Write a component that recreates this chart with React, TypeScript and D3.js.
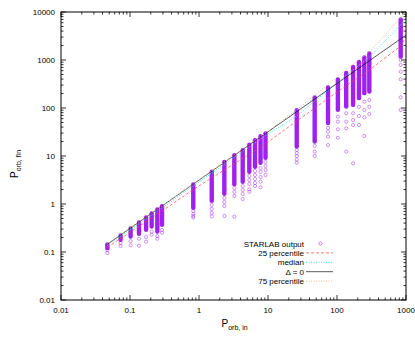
import React from "react";
import * as d3 from "d3";

// orbital period in / out of STARLAB runs, one column per initial period
const pIn = [
  0.047, 0.073, 0.102, 0.135, 0.171, 0.206, 0.249, 0.291,
  0.826, 1.53, 2.33, 3.25, 4.3, 5.36, 6.48, 7.79, 9.2,
  26.1, 47.5, 74.1, 103, 136, 171, 208, 249, 294, 838,
];
// highest value of each column
const finTop = [
  0.145, 0.223, 0.312, 0.416, 0.528, 0.64, 0.776, 0.908,
  2.57, 4.75, 7.61, 10.5, 13.3, 17.4, 21.5, 26.1, 29.7,
  90.9, 167, 270, 396, 543, 725, 922, 1138, 1380, 7050,
];
// lower end of the dense (overlapping) part of each column
const finDenseLow = [
  0.119, 0.178, 0.208, 0.237, 0.287, 0.337, 0.265, 0.365,
  0.826, 1.155, 1.62, 2.55, 2.87, 4.64, 5.9, 7.15, 9.08,
  15.6, 19.9, 48, 90.9, 106, 115, 159, 202, 219, 1170,
];
// single points below the dense part
const finSparse = [
  [0.11, 0.095],
  [0.154, 0.133],
  [0.169, 0.138],
  [0.189, 0.135],
  [0.205, 0.164],
  [0.265, 0.229],
  [0.215, 0.189],
  [0.287, 0.252],
  [0.714, 0.619, 0.562, 0.523],
  [0.953, 0.787, 0.649, 0.55],
  [1.33, 1.1, 0.908, 0.562],
  [2.15, 1.78, 1.47, 0.543],
  [2.37, 1.96, 1.62, 1.27],
  [3.83, 3.16, 2.61, 2.02, 1.8],
  [4.87, 4.02, 3.32, 2.74, 2.37],
  [5.62, 4.64, 3.65, 2.92, 2.23],
  [7.5, 6.19, 5.11, 4.02],
  [13.3, 11.5, 10.0, 8.45, 7.25],
  [16.2, 12.3, 10.0],
  [38.3, 32.1, 25.2, 16.9],
  [65.9, 51.9, 36.0, 24.0],
  [77.6, 51.9, 37.8, 12.3],
  [77.6, 56.2, 44.2, 7.04],
  [106, 68.1, 44.2],
  [135, 90.9, 64.0, 26.1],
  [147, 106, 75.0],
  [1000, 787, 570, 396, 167, 90.9],
];

// percentile curves
const pctX = [0.047, 0.291, 0.826, 9.2, 26.1, 103, 294, 838, 1000];
const p25 = [0.125, 0.714, 2.0, 17.8, 53.6, 221, 619, 1959, 3015];
const p50 = [0.136, 0.826, 2.37, 26.7, 68.1, 348, 1155, 5360, 7500];
const p75 = [0.148, 0.908, 2.61, 30.1, 90.9, 464, 1468, 7500, 10000];
const deltaZeroX = [0.047, 1000];
const deltaZeroY = [0.145, 3300];

const W = 415;
const H = 339;
const left = 61, right = 406, top = 12, bottom = 300;
const font = "'Liberation Sans', Arial, Helvetica, sans-serif";
const purple = "#a020f0";

export default function App() {
  const x = d3.scaleLog().domain([0.01, 1000]).range([left, right]);
  const y = d3.scaleLog().domain([0.01, 10000]).range([bottom, top]);
  const fmt = d3.format("~g");

  const line = d3
    .line<[number, number]>()
    .x((d) => x(d[0]))
    .y((d) => y(d[1]));
  const pairs = (xs: number[], ys: number[]) =>
    xs.map((v, i) => [v, ys[i]] as [number, number]);

  const isMajor = (v: number) => Math.abs(Math.log10(v) - Math.round(Math.log10(v))) < 1e-9;
  const xTicks = x.ticks();
  const yTicks = y.ticks();

  const curves = [
    { label: "25 percentile", d: line(pairs(pctX, p25)), color: "#ff4040", dash: "3,2", w: 0.7 },
    { label: "median", d: line(pairs(pctX, p50)), color: "#20e8e8", dash: "1,1.5", w: 0.9 },
    { label: "\u0394 = 0", d: line(pairs(deltaZeroX, deltaZeroY)), color: "#111", dash: undefined, w: 0.7 },
    { label: "75 percentile", d: line(pairs(pctX, p75)), color: "#e8b878", dash: "1,1.5", w: 0.9 },
  ];
  const legendY = (i: number) => 243.5 + i * 9.4;

  return (
    <svg
      width={W}
      height={H}
      style={{ position: "absolute", left: 0, top: 0, background: "#fff" }}
      fontFamily={font}
    >
      <defs>
        <clipPath id="plot">
          <rect x={left} y={top} width={right - left} height={bottom - top} />
        </clipPath>
      </defs>

      {/* ticks on all four sides, pointing inward */}
      <g stroke="#000" strokeWidth={0.8}>
        {xTicks.map((t, i) => {
          const len = isMajor(t) ? 5 : 2.5;
          const px = x(t);
          return (
            <g key={"xt" + i}>
              <line x1={px} x2={px} y1={bottom} y2={bottom - len} />
              <line x1={px} x2={px} y1={top} y2={top + len} />
            </g>
          );
        })}
        {yTicks.map((t, i) => {
          const len = isMajor(t) ? 5 : 2.5;
          const py = y(t);
          return (
            <g key={"yt" + i}>
              <line x1={left} x2={left + len} y1={py} y2={py} />
              <line x1={right} x2={right - len} y1={py} y2={py} />
            </g>
          );
        })}
      </g>

      <g fontSize={8} fill="#000">
        {xTicks.filter(isMajor).map((t, i) => (
          <text key={"xl" + i} x={x(t)} y={313} textAnchor="middle">
            {fmt(t)}
          </text>
        ))}
        {yTicks.filter(isMajor).map((t, i) => (
          <text key={"yl" + i} x={55} y={y(t) + 3} textAnchor="end">
            {fmt(t)}
          </text>
        ))}
      </g>

      {/* data columns */}
      <g clipPath="url(#plot)">
        {pIn.map((p, i) => {
          const cx = x(p);
          const y0 = y(finTop[i]);
          const y1 = y(finDenseLow[i]);
          return (
            <g key={"c" + i}>
              <rect x={cx - 2.2} y={y0 - 2} width={4.4} height={y1 - y0 + 4} rx={2.2} fill={purple} />
              {finSparse[i].map((v, j) => (
                <circle
                  key={j}
                  cx={cx}
                  cy={y(v)}
                  r={1.6}
                  fill="none"
                  stroke={purple}
                  strokeOpacity={0.6}
                  strokeWidth={0.8}
                />
              ))}
            </g>
          );
        })}
        {curves.map((c, i) => (
          <path
            key={"l" + i}
            d={c.d ?? ""}
            fill="none"
            stroke={c.color}
            strokeWidth={c.w}
            strokeDasharray={c.dash}
          />
        ))}
      </g>

      <rect x={left} y={top} width={right - left} height={bottom - top} fill="none" stroke="#000" strokeWidth={1} />

      {/* legend */}
      <g fontSize={8}>
        <text x={304} y={legendY(0) + 3} textAnchor="end">STARLAB output</text>
        <circle cx={320.5} cy={legendY(0)} r={1.6} fill="none" stroke={purple} strokeOpacity={0.7} strokeWidth={0.8} />
        {curves.map((c, i) => (
          <g key={"lg" + i}>
            <text x={304} y={legendY(i + 1) + 3} textAnchor="end">{c.label}</text>
            <line
              x1={306}
              x2={333}
              y1={legendY(i + 1)}
              y2={legendY(i + 1)}
              stroke={c.color}
              strokeWidth={c.w}
              strokeDasharray={c.dash}
            />
          </g>
        ))}
      </g>

      {/* axis titles */}
      <text x={221.5} y={327} fontSize={10}>
        P<tspan fontSize={7} dy={2.5}>orb, in</tspan>
      </text>
      <text transform="translate(18,178) rotate(-90)" fontSize={10}>
        P<tspan fontSize={7} dy={2.5}>orb, fin</tspan>
      </text>
    </svg>
  );
}
